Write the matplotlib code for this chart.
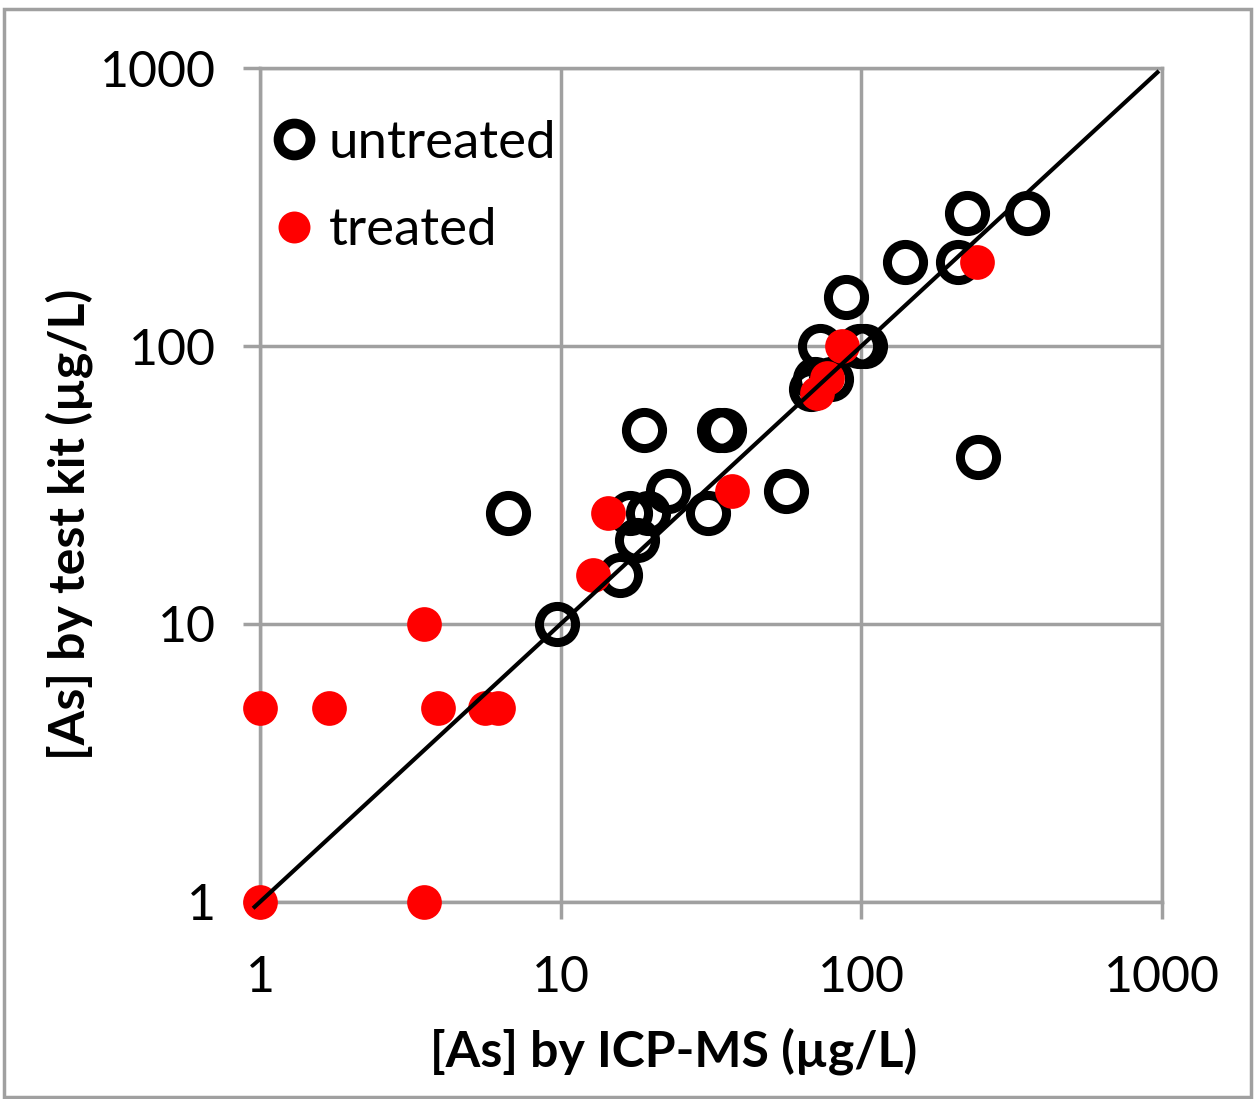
import matplotlib
matplotlib.use("Agg")
from matplotlib import pyplot as plt
from matplotlib.lines import Line2D
from matplotlib.patches import Rectangle

plt.rcParams['font.family'] = ['Lato', 'DejaVu Sans']

# untreated samples: ICP-MS vs test kit (ug/L)
untreatedX = [6.7, 9.7, 15.7, 18, 17, 19.5, 19, 22.7, 31, 33.5, 35, 56,
              73, 68, 70, 79, 89, 98, 103, 140, 210, 225, 355, 245]
untreatedY = [25, 10, 15, 20, 25, 25, 50, 30, 25, 50, 50, 30,
              100, 70, 76, 76, 150, 100, 100, 200, 200, 300, 300, 40]

# treated samples
treatedX = [1, 1.7, 3.5, 3.9, 5.6, 6.2, 1, 3.5, 12.8, 14.4, 37, 71, 77, 86, 242]
treatedY = [5, 5, 10, 5, 5, 5, 1, 1, 15, 25, 30, 68, 77, 100, 200]

lineX = [0.96, 965]
lineY = [0.96, 965]

grey = '#a0a0a0'

fig = plt.figure(figsize=(12.57, 10.99), dpi=100)
fig.patches.append(Rectangle((0.003, 0.002), 0.992, 0.99, transform=fig.transFigure,
                             fill=False, edgecolor=grey, linewidth=2.5))
ax = fig.add_axes([0.2068, 0.1793, 0.7177, 0.7588])

ax.plot(untreatedX, untreatedY, 'o', ms=26, mfc='none', mec='black', mew=6.5,
        zorder=3, clip_on=False)
ax.plot(treatedX, treatedY, 'o', ms=25, color='#ff0000', mec='none',
        zorder=4, clip_on=False)
ax.plot(lineX, lineY, color='black', lw=3, zorder=5, clip_on=False)

ax.set_xscale('log')
ax.set_yscale('log')
ax.set_xlim(1, 1000)
ax.set_ylim(1, 1000)
ticks = [1, 10, 100, 1000]
ax.set_xticks(ticks)
ax.set_yticks(ticks)
ax.set_xticklabels([str(t) for t in ticks])
ax.set_yticklabels([str(t) for t in ticks])
ax.minorticks_off()
ax.tick_params(labelsize=36, length=12, width=2.5, color=grey)
ax.tick_params(axis='x', pad=26)
ax.tick_params(axis='y', pad=20)
ax.grid(True, color=grey, linewidth=2.5)
ax.set_axisbelow(True)
for s in ax.spines.values():
    s.set_color(grey)
    s.set_linewidth(2.5)

ax.set_xlabel('[As] by ICP-MS (µg/L)', fontsize=36, fontweight='bold')
ax.set_ylabel('[As] by test kit (µg/L)', fontsize=36, fontweight='bold')
ax.xaxis.set_label_coords(0.458, -0.150)
ax.yaxis.set_label_coords(-0.185, 0.453)

handles = [Line2D([], [], marker='o', ls='none', ms=23, mfc='none', mec='black', mew=7),
           Line2D([], [], marker='o', ls='none', ms=23, color='#ff0000', mec='none')]
ax.legend(handles, ['untreated', 'treated'], loc='upper left', frameon=False,
          fontsize=38, handletextpad=0.0, labelspacing=0.77, borderpad=0,
          borderaxespad=0, bbox_to_anchor=(0.0, 0.938), handlelength=1.3)

plt.savefig('out.png', dpi=100)
